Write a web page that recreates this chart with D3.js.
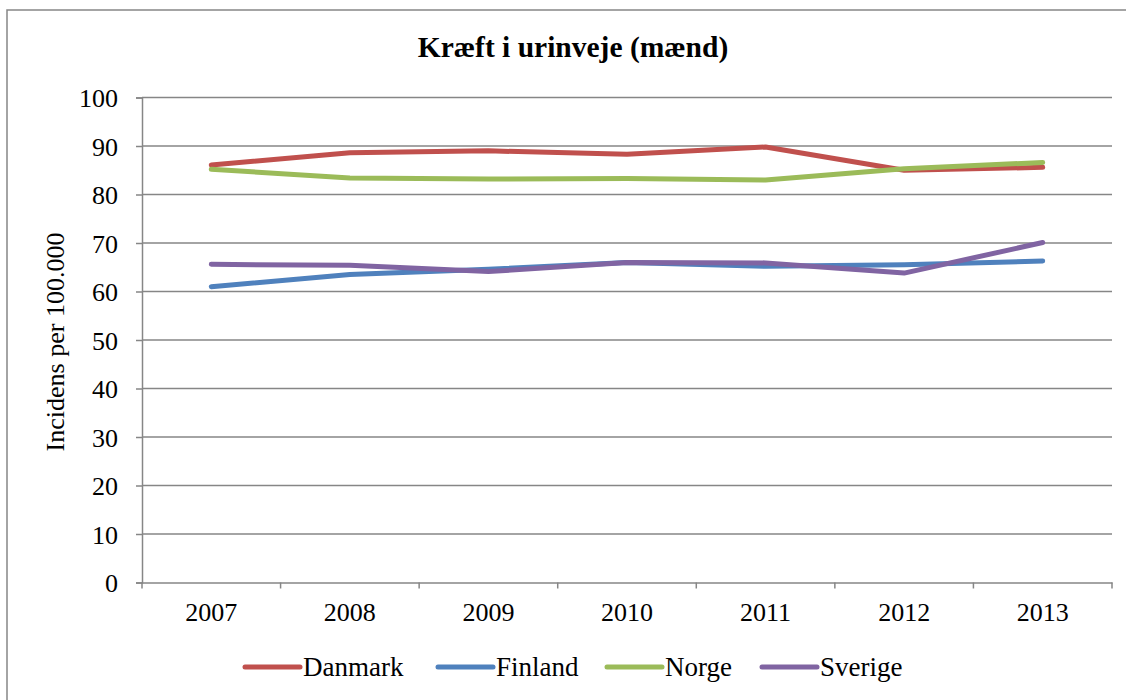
<!DOCTYPE html>
<html lang="da">
<head>
<meta charset="UTF-8">
<title>Kræft i urinveje (mænd)</title>
<script src="https://d3js.org/d3.v7.min.js"></script>
<style>
    body { margin: 0; background: #fff; }
    svg { display: block; font-family: "Liberation Serif", "Times New Roman", serif; }
    .tick text { font-size: 26px; fill: #000; }
</style>
</head>
<body>
<svg id="chart" width="1126" height="700"></svg>
<script>
    // data
    const years = ["2007", "2008", "2009", "2010", "2011", "2012", "2013"];
    const danmark = [86.1, 88.6, 89.0, 88.3, 89.8, 85.0, 85.6];
    const finland = [61.0, 63.5, 64.6, 66.0, 65.2, 65.5, 66.3];
    const norge = [85.2, 83.4, 83.2, 83.3, 83.0, 85.3, 86.6];
    const sverige = [65.6, 65.4, 64.1, 66.0, 65.9, 63.8, 70.1];
    const yTicks = [0, 10, 20, 30, 40, 50, 60, 70, 80, 90, 100];

    const series = [
        { name: "Danmark", values: danmark, color: "#C0504D" },
        { name: "Finland", values: finland, color: "#4F81BD" },
        { name: "Norge", values: norge, color: "#9BBB59" },
        { name: "Sverige", values: sverige, color: "#8064A2" }
    ];

    const svg = d3.select("#chart");
    const margin = { left: 142, right: 1112, top: 97.5, bottom: 582.5 };

    // outer chart frame
    svg.append("rect")
        .attr("x", 7).attr("y", 10)
        .attr("width", 1140).attr("height", 720)
        .attr("fill", "#fff")
        .attr("stroke", "#868686").attr("stroke-width", 1.5);

    const x = d3.scaleBand().domain(years).range([margin.left, margin.right]);
    const y = d3.scaleLinear().domain([0, 100]).range([margin.bottom, margin.top]);

    // horizontal gridlines
    svg.append("g")
        .selectAll("line")
        .data(yTicks.filter(d => d > 0))
        .join("line")
        .attr("x1", margin.left).attr("x2", margin.right)
        .attr("y1", d => y(d)).attr("y2", d => y(d))
        .attr("stroke", "#868686").attr("stroke-width", 1.5);

    // y axis
    const yAxis = svg.append("g")
        .attr("transform", `translate(${margin.left},0)`)
        .call(d3.axisLeft(y).tickValues(yTicks).tickSize(6).tickPadding(18))
        .attr("font-family", null).attr("font-size", null);
    yAxis.select(".domain").attr("stroke", "#868686").attr("stroke-width", 1.5);
    yAxis.selectAll(".tick line").attr("stroke", "#868686").attr("stroke-width", 1.5);
    yAxis.selectAll(".tick text").attr("dy", "0.35em");

    // x axis with ticks between categories
    const xAxis = svg.append("g")
        .attr("transform", `translate(0,${margin.bottom})`)
        .call(d3.axisBottom(x).tickSize(0))
        .attr("font-family", null).attr("font-size", null);
    xAxis.select(".domain").attr("stroke", "#868686").attr("stroke-width", 1.5);
    xAxis.selectAll(".tick text").attr("y", 29).attr("dy", "0.35em");
    svg.append("g")
        .selectAll("line")
        .data(years.map(d => x(d)).concat([x(years[years.length - 1]) + x.bandwidth()]))
        .join("line")
        .attr("x1", d => d).attr("x2", d => d)
        .attr("y1", margin.bottom).attr("y2", margin.bottom + 6)
        .attr("stroke", "#868686").attr("stroke-width", 1.5);

    // lines
    const line = d3.line()
        .x((d, i) => x(years[i]) + x.bandwidth() / 2)
        .y(d => y(d));

    svg.append("g")
        .selectAll("path")
        .data(series)
        .join("path")
        .attr("d", d => line(d.values))
        .attr("fill", "none")
        .attr("stroke", d => d.color)
        .attr("stroke-width", 5)
        .attr("stroke-linecap", "round")
        .attr("stroke-linejoin", "round");

    // title
    svg.append("text")
        .attr("x", 573).attr("y", 57)
        .attr("text-anchor", "middle")
        .attr("font-size", "29.5px")
        .attr("font-weight", "bold")
        .text("Kræft i urinveje (mænd)");

    // y axis title
    svg.append("text")
        .attr("transform", "translate(64,342) rotate(-90)")
        .attr("text-anchor", "middle")
        .attr("font-size", "26px")
        .text("Incidens per 100.000");

    // legend
    const legendX = [245, 438, 607, 762];
    const legend = svg.append("g")
        .selectAll("g")
        .data(series)
        .join("g")
        .attr("transform", (d, i) => `translate(${legendX[i]},667)`);
    legend.append("line")
        .attr("x1", 0).attr("x2", 55)
        .attr("stroke", d => d.color)
        .attr("stroke-width", 5)
        .attr("stroke-linecap", "round");
    legend.append("text")
        .attr("x", 58).attr("dy", "0.35em")
        .attr("font-size", "27px")
        .text(d => d.name);
</script>
</body>
</html>
